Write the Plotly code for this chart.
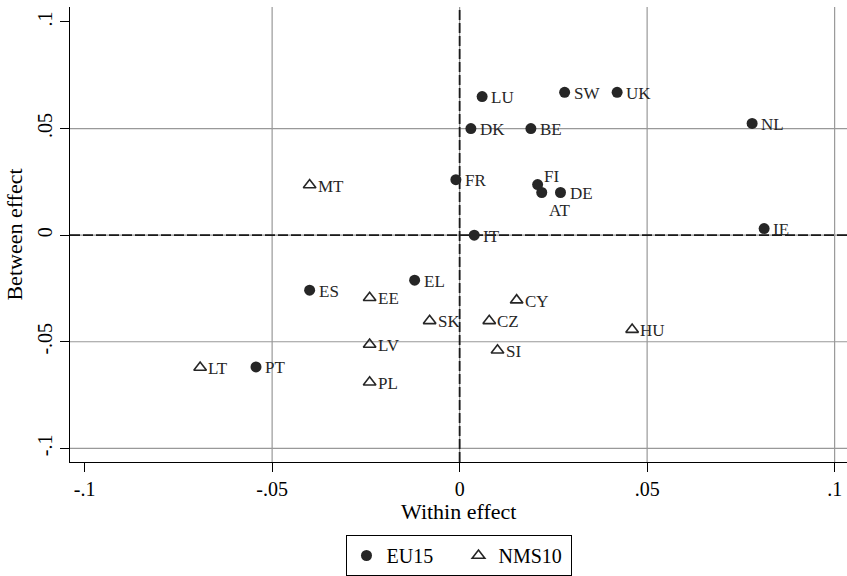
import plotly.graph_objects as go

# ---- data ----
eu15_names = ["LU", "DK", "BE", "FR", "FI", "AT", "DE", "IT", "SW", "UK", "NL", "IE", "ES", "EL", "PT"]
eu15_within = [0.006, 0.003, 0.019, -0.001, 0.0208, 0.0219, 0.0269, 0.0039, 0.028, 0.042, 0.078, 0.0812, -0.040, -0.012, -0.0543]
eu15_between = [0.065, 0.050, 0.050, 0.026, 0.0237, 0.0200, 0.0200, 0.000, 0.067, 0.067, 0.0524, 0.0031, -0.0258, -0.0211, -0.0618]

nms10_names = ["MT", "HU", "EE", "SK", "CY", "CZ", "SI", "LV", "PL", "LT"]
nms10_within = [-0.040, 0.046, -0.024, -0.008, 0.0152, 0.0079, 0.0101, -0.024, -0.024, -0.0692]
nms10_between = [0.0235, -0.0443, -0.0294, -0.0402, -0.0305, -0.0402, -0.054, -0.0513, -0.069, -0.0621]

tick_vals = [-0.1, -0.05, 0, 0.05, 0.1]
tick_text = ["-.1", "-.05", "0", ".05", ".1"]
x_grid = [-0.05, 0, 0.05, 0.1]
y_grid = [-0.1, -0.05, 0, 0.05]

FONT = "Liberation Serif"
INK = "#262626"

fig = go.Figure()

fig.add_trace(go.Scatter(
    x=eu15_within, y=eu15_between, mode="markers", name="EU15",
    marker=dict(symbol="circle", size=11, color=INK, line=dict(width=0)),
))
fig.add_trace(go.Scatter(
    x=nms10_within, y=nms10_between, mode="markers", name="NMS10",
    marker=dict(symbol="triangle-up-open", size=11, color=INK, line=dict(width=1.6, color=INK)),
))

# gridlines
for gx in x_grid:
    fig.add_shape(type="line", xref="x", yref="paper", x0=gx, x1=gx, y0=0, y1=1,
                  line=dict(color="#999999", width=1.2), layer="below")
for gy in y_grid:
    fig.add_shape(type="line", xref="paper", yref="y", x0=0, x1=1, y0=gy, y1=gy,
                  line=dict(color="#999999", width=1.2), layer="below")
# zero reference lines (dashed)
fig.add_shape(type="line", xref="x", yref="paper", x0=0, x1=0, y0=0, y1=1,
              line=dict(color="#1a1a1a", width=1.8, dash="10px,3px"), layer="below")
fig.add_shape(type="line", xref="paper", yref="y", x0=0, x1=1, y0=0, y1=0,
              line=dict(color="#1a1a1a", width=1.8, dash="10px,3px"), layer="below")

# marker labels
special = {"FI": ("left", "bottom", 4, -3), "AT": ("left", "top", 5, -6)}
def add_labels(xs, ys, names, shift):
    for x, y, n in zip(xs, ys, names):
        if n in special:
            xa, ya, xs_, ys_ = special[n]
        else:
            xa, ya, xs_, ys_ = "left", "middle", shift, -1
        fig.add_annotation(x=x, y=y, text=n, showarrow=False, xanchor=xa, yanchor=ya,
                           xshift=xs_, yshift=ys_,
                           font=dict(family=FONT, size=17, color=INK))

add_labels(eu15_within, eu15_between, eu15_names, 7)
add_labels(nms10_within, nms10_between, nms10_names, 6)

# x-axis title
fig.add_annotation(x=0.5, y=-0.1084, xref="paper", yref="paper", text="Within effect",
                   showarrow=False, xanchor="center", yanchor="middle",
                   font=dict(family=FONT, size=22, color="black"))

axis_common = dict(
    showline=True, linecolor="black", linewidth=1.3, mirror=False,
    ticks="outside", ticklen=9, tickwidth=1.3, tickcolor="black",
    tickvals=tick_vals, ticktext=tick_text, showgrid=False, zeroline=False,
    tickfont=dict(family=FONT, size=20, color="black"), automargin=False,
)

fig.update_layout(
    width=847, height=576,
    margin=dict(l=70, r=0, t=7, b=114),
    plot_bgcolor="white", paper_bgcolor="white",
    xaxis=dict(range=[-0.1039, 0.1033], **axis_common),
    yaxis=dict(range=[-0.1064, 0.107], tickangle=-90,
               title=dict(text="Between effect", font=dict(family=FONT, size=22, color="black"), standoff=5),
               **axis_common),
    legend=dict(orientation="h", x=0.5, xanchor="center", y=-0.161, yanchor="top",
                bordercolor="black", borderwidth=1, entrywidth=67,
                font=dict(family=FONT, size=20, color="black")),
    font=dict(family=FONT),
)

fig.write_html("out.html", config={"displayModeBar": False},
               post_script="document.body.style.margin='0px';document.body.style.overflow='hidden';")
